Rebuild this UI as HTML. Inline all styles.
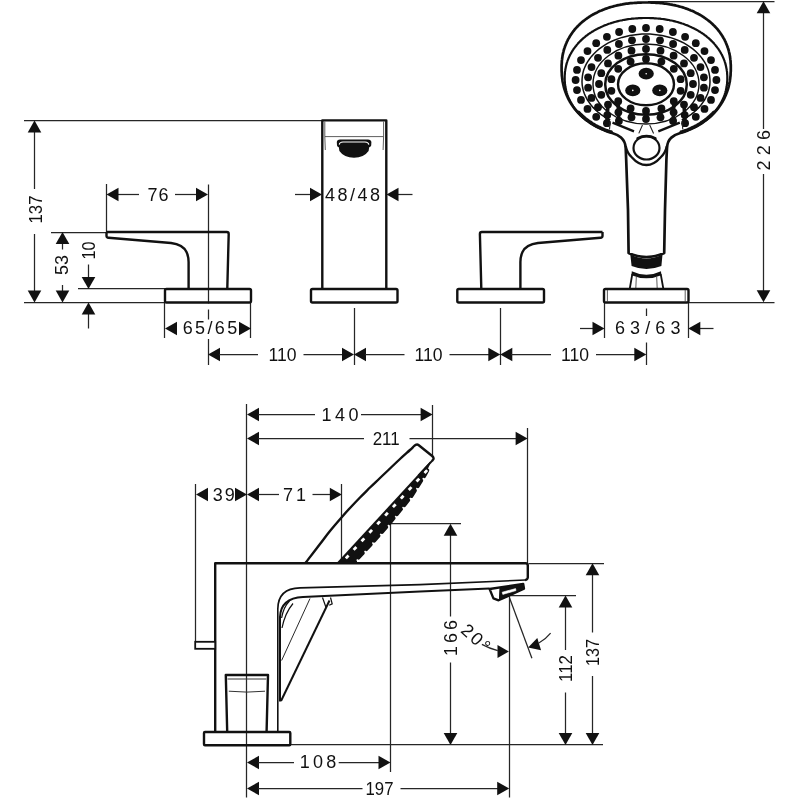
<!DOCTYPE html>
<html lang="en">
<head>
<meta charset="utf-8">
<title>Dimensional drawing</title>
<style>
html,body{margin:0;padding:0;background:#fff;}
body{width:800px;height:800px;overflow:hidden;}
svg{display:block;font-family:"Liberation Sans",sans-serif;will-change:transform;opacity:0.999;}
svg text{fill:#111;stroke:#fff;stroke-width:0.35px;paint-order:stroke;}
.thin line,.thin path{stroke:#262626;}
.ah{fill:#111;stroke:none;}
.thick{fill:none;stroke:#111;stroke-width:2.4;stroke-linejoin:round;}
rect.thick,path.thick{fill:none;}
.hair{fill:none;stroke:#333;stroke-width:0.8;}
.fill{fill:#111;stroke:none;}
</style>
</head>
<body>
<svg width="800" height="800" viewBox="0 0 800 800">
<rect x="0" y="0" width="800" height="800" fill="#fff"/>
<g id="top-dims" class="thin">
<line x1="24.00" y1="120.50" x2="322.00" y2="120.50" stroke-width="1.25" />
<line x1="24.00" y1="302.50" x2="165.00" y2="302.50" stroke-width="1.25" />
<line x1="34.50" y1="131.00" x2="34.50" y2="189.00" stroke-width="1.25" />
<line x1="34.50" y1="234.00" x2="34.50" y2="292.00" stroke-width="1.25" />
<polygon class="ah" points="34.50,120.50 41.30,132.50 27.70,132.50"/>
<polygon class="ah" points="34.50,302.50 27.70,290.50 41.30,290.50"/>
<text x="41.50" y="209.50" font-size="18" text-anchor="middle" textLength="28" lengthAdjust="spacingAndGlyphs" transform="rotate(-90 41.50 209.50)">137</text>
<line x1="51.00" y1="232.50" x2="106.00" y2="232.50" stroke-width="1.25" />
<line x1="62.50" y1="243.00" x2="62.50" y2="249.50" stroke-width="1.25" />
<line x1="62.50" y1="285.00" x2="62.50" y2="292.00" stroke-width="1.25" />
<polygon class="ah" points="62.50,232.00 69.30,244.00 55.70,244.00"/>
<polygon class="ah" points="62.50,302.50 55.70,290.50 69.30,290.50"/>
<text x="68.30" y="265.00" font-size="18" text-anchor="middle" textLength="20" lengthAdjust="spacingAndGlyphs" transform="rotate(-90 68.30 265.00)">53</text>
<line x1="78.00" y1="288.50" x2="165.00" y2="288.50" stroke-width="1.25" />
<line x1="88.50" y1="264.50" x2="88.50" y2="278.00" stroke-width="1.25" />
<line x1="88.50" y1="313.00" x2="88.50" y2="328.50" stroke-width="1.25" />
<polygon class="ah" points="88.50,289.00 81.70,277.00 95.30,277.00"/>
<polygon class="ah" points="88.50,302.50 95.30,314.50 81.70,314.50"/>
<text x="94.70" y="250.50" font-size="18" text-anchor="middle" textLength="18" lengthAdjust="spacingAndGlyphs" transform="rotate(-90 94.70 250.50)">10</text>
<line x1="106.50" y1="184.00" x2="106.50" y2="232.00" stroke-width="1.25" />
<line x1="117.00" y1="194.50" x2="139.00" y2="194.50" stroke-width="1.25" />
<line x1="175.00" y1="194.50" x2="197.00" y2="194.50" stroke-width="1.25" />
<polygon class="ah" points="106.50,194.50 118.50,187.70 118.50,201.30"/>
<polygon class="ah" points="208.00,194.50 196.00,201.30 196.00,187.70"/>
<text x="158.00" y="201.00" font-size="18" text-anchor="middle" textLength="21" lengthAdjust="spacing">76</text>
<line x1="208.50" y1="184.50" x2="208.50" y2="303.50" stroke-width="1.25" />
<line x1="208.50" y1="309.50" x2="208.50" y2="319.50" stroke-width="1.25" />
<line x1="208.50" y1="339.00" x2="208.50" y2="365.00" stroke-width="1.25" />
<line x1="164.50" y1="303.00" x2="164.50" y2="338.00" stroke-width="1.25" />
<line x1="250.50" y1="303.00" x2="250.50" y2="338.00" stroke-width="1.25" />
<polygon class="ah" points="165.00,328.50 177.00,321.70 177.00,335.30"/>
<polygon class="ah" points="251.00,328.50 239.00,335.30 239.00,321.70"/>
<text x="210.00" y="334.00" font-size="18" text-anchor="middle" textLength="54.5" lengthAdjust="spacing">65/65</text>
<line x1="295.00" y1="194.50" x2="311.00" y2="194.50" stroke-width="1.25" />
<line x1="397.50" y1="194.50" x2="412.50" y2="194.50" stroke-width="1.25" />
<polygon class="ah" points="322.00,194.50 310.00,201.30 310.00,187.70"/>
<polygon class="ah" points="386.50,194.50 398.50,187.70 398.50,201.30"/>
<text x="352.50" y="201.00" font-size="18" text-anchor="middle" textLength="55" lengthAdjust="spacing">48/48</text>
<line x1="354.50" y1="308.00" x2="354.50" y2="365.00" stroke-width="1.25" />
<line x1="500.50" y1="308.00" x2="500.50" y2="365.00" stroke-width="1.25" />
<line x1="646.50" y1="308.50" x2="646.50" y2="316.00" stroke-width="1.25" />
<line x1="646.50" y1="342.50" x2="646.50" y2="365.00" stroke-width="1.25" />
<polygon class="ah" points="208.00,354.50 220.00,347.70 220.00,361.30"/>
<line x1="219.00" y1="354.50" x2="258.00" y2="354.50" stroke-width="1.25" />
<text x="282.60" y="360.50" font-size="18" text-anchor="middle" textLength="28" lengthAdjust="spacingAndGlyphs">110</text>
<line x1="303.50" y1="354.50" x2="343.00" y2="354.50" stroke-width="1.25" />
<polygon class="ah" points="354.00,354.50 342.00,361.30 342.00,347.70"/>
<polygon class="ah" points="354.00,354.50 366.00,347.70 366.00,361.30"/>
<line x1="365.00" y1="354.50" x2="404.50" y2="354.50" stroke-width="1.25" />
<text x="428.50" y="360.50" font-size="18" text-anchor="middle" textLength="28" lengthAdjust="spacingAndGlyphs">110</text>
<line x1="449.50" y1="354.50" x2="489.00" y2="354.50" stroke-width="1.25" />
<polygon class="ah" points="500.30,354.50 488.30,361.30 488.30,347.70"/>
<polygon class="ah" points="500.30,354.50 512.30,347.70 512.30,361.30"/>
<line x1="511.00" y1="354.50" x2="551.00" y2="354.50" stroke-width="1.25" />
<text x="575.00" y="360.50" font-size="18" text-anchor="middle" textLength="28" lengthAdjust="spacingAndGlyphs">110</text>
<line x1="596.00" y1="354.50" x2="635.00" y2="354.50" stroke-width="1.25" />
<polygon class="ah" points="646.30,354.50 634.30,361.30 634.30,347.70"/>
<line x1="604.50" y1="303.00" x2="604.50" y2="338.00" stroke-width="1.25" />
<line x1="688.50" y1="303.00" x2="688.50" y2="338.00" stroke-width="1.25" />
<line x1="580.00" y1="328.50" x2="593.00" y2="328.50" stroke-width="1.25" />
<line x1="699.50" y1="328.50" x2="713.50" y2="328.50" stroke-width="1.25" />
<polygon class="ah" points="604.50,328.50 592.50,335.30 592.50,321.70"/>
<polygon class="ah" points="688.30,328.50 700.30,321.70 700.30,335.30"/>
<text x="647.70" y="334.00" font-size="18" text-anchor="middle" textLength="65.5" lengthAdjust="spacing">63/63</text>
<line x1="648.00" y1="1.50" x2="774.50" y2="1.50" stroke-width="1.25" />
<line x1="689.00" y1="302.50" x2="774.50" y2="302.50" stroke-width="1.25" />
<line x1="763.50" y1="12.00" x2="763.50" y2="129.00" stroke-width="1.25" />
<line x1="763.50" y1="174.00" x2="763.50" y2="291.00" stroke-width="1.25" />
<polygon class="ah" points="763.50,1.20 770.30,13.20 756.70,13.20"/>
<polygon class="ah" points="763.50,302.30 756.70,290.30 770.30,290.30"/>
<text x="770.50" y="150.20" font-size="18" text-anchor="middle" textLength="40.5" lengthAdjust="spacing" transform="rotate(-90 770.50 150.20)">226</text>
</g>
<g id="left-handle" class="thick">
<path d="M106.5,232 L226.8,232 Q228.7,232 228.7,234 L227.3,288.5"/>
<path d="M106.5,232 L106.5,236 Q106.6,237.7 108.5,237.8 L171,243 Q183,244.6 186.5,252 Q188.6,256.5 188.6,262 L188.6,288.5"/>
<rect x="165" y="289" width="86" height="13.5" rx="1.5"/>
</g>
<g id="spout-front">
<path class="thick" d="M322.3,288.5 L322.3,120.4 L386.3,120.4 L386.3,288.5"/>
<rect class="thick" x="311" y="289" width="86.5" height="13.5" rx="1.5"/>
<path class="hair" d="M324.8,121.5 L324.8,136.6 L383.6,136.6 L383.6,121.5 M324.8,136.6 L325.3,150 M383.6,136.6 L383.1,150"/>
<path class="fill" d="M336.8,142 Q337,139.6 340,139.5 L368,139.5 Q371,139.6 371.4,142 L371.2,145.5 Q370.5,147 369.2,147.3 L368.6,151 Q364,157.6 354,157.8 Q344,157.6 339.4,151 L338.8,147.3 Q337.5,147 337,145.5 Z"/>
<path d="M339.3,144.6 Q339.5,142.2 343,142 L365,142 Q368.5,142.2 368.8,144.6" stroke="#fff" stroke-width="1.1" fill="none"/>
</g>
<g id="right-handle" class="thick">
<path d="M602.5,232 L481.8,232 Q479.9,232 479.9,234 L481.3,288.5"/>
<path d="M602.5,232 L602.5,236 Q602.4,237.7 600.5,237.8 L538,243 Q526,244.6 522.5,252 Q520.4,256.5 520.4,262 L520.4,288.5"/>
<rect x="457.3" y="289" width="86.7" height="13.5" rx="1.5"/>
</g>
<g id="shower-front">
<path d="M628.6,253 L628,210 L626.2,160 L625.7,148 Q625.4,141.5 621,137.6 Q617.5,134.6 612.1,133.0 L610.9,132.7 L609.7,132.3 L608.5,131.9 L607.3,131.5 L606.1,131.0 L604.9,130.6 L603.8,130.1 L602.6,129.6 L601.5,129.1 L600.4,128.6 L599.3,128.1 L598.2,127.6 L597.2,127.0 L596.1,126.5 L595.0,125.9 L594.0,125.3 L593.0,124.7 L592.0,124.1 L591.0,123.5 L590.0,122.8 L589.1,122.2 L588.1,121.5 L587.2,120.8 L586.3,120.1 L585.4,119.4 L584.5,118.7 L583.6,118.0 L582.7,117.2 L581.9,116.5 L581.1,115.7 L580.2,114.9 L579.5,114.2 L578.7,113.3 L577.9,112.5 L577.2,111.7 L576.4,110.9 L575.7,110.0 L575.0,109.2 L574.3,108.3 L573.7,107.4 L573.0,106.5 L572.4,105.6 L571.8,104.7 L571.2,103.8 L570.6,102.8 L570.0,101.9 L569.5,100.9 L569.0,100.0 L568.4,99.0 L567.9,98.0 L567.5,97.0 L567.0,96.0 L566.6,95.0 L566.2,94.0 L565.8,92.9 L565.4,91.9 L565.0,90.8 L564.7,89.8 L564.3,88.7 L564.0,87.6 L563.7,86.5 L563.5,85.4 L563.2,84.3 L563.0,83.2 L562.7,82.0 L562.5,80.9 L562.4,79.7 L562.2,78.5 L562.1,77.3 L561.9,76.1 L561.8,74.9 L561.8,73.6 L561.7,72.3 L561.6,71.0 L561.6,69.6 L561.6,68.0 L561.6,66.5 L561.6,65.2 L561.7,63.9 L561.8,62.7 L561.8,61.5 L561.9,60.4 L562.1,59.2 L562.2,58.1 L562.4,57.0 L562.5,55.9 L562.7,54.8 L563.0,53.7 L563.2,52.6 L563.5,51.6 L563.7,50.5 L564.0,49.5 L564.3,48.5 L564.7,47.5 L565.0,46.5 L565.4,45.5 L565.8,44.5 L566.2,43.5 L566.6,42.6 L567.0,41.6 L567.5,40.6 L567.9,39.7 L568.4,38.8 L569.0,37.9 L569.5,37.0 L570.0,36.1 L570.6,35.2 L571.2,34.3 L571.8,33.4 L572.4,32.5 L573.0,31.7 L573.7,30.9 L574.3,30.0 L575.0,29.2 L575.7,28.4 L576.4,27.6 L577.2,26.8 L577.9,26.0 L578.7,25.3 L579.5,24.5 L580.2,23.8 L581.1,23.0 L581.9,22.3 L582.7,21.6 L583.6,20.9 L584.5,20.2 L585.4,19.5 L586.3,18.9 L587.2,18.2 L588.1,17.6 L589.1,16.9 L590.0,16.3 L591.0,15.7 L592.0,15.1 L593.0,14.5 L594.0,14.0 L595.0,13.4 L596.1,12.9 L597.2,12.4 L598.2,11.8 L599.3,11.3 L600.4,10.8 L601.5,10.4 L602.6,9.9 L603.8,9.5 L604.9,9.0 L606.1,8.6 L607.3,8.2 L608.5,7.8 L609.7,7.4 L610.9,7.0 L612.1,6.7 L613.3,6.4 L614.6,6.0 L615.8,5.7 L617.1,5.4 L618.4,5.1 L619.7,4.9 L621.0,4.6 L622.3,4.4 L623.7,4.1 L625.0,3.9 L626.4,3.7 L627.7,3.6 L629.1,3.4 L630.5,3.2 L632.0,3.1 L633.4,3.0 L634.9,2.9 L636.3,2.8 L637.8,2.7 L639.4,2.6 L640.9,2.6 L642.6,2.5 L644.3,2.5 L646.2,2.5 L648.1,2.5 L649.8,2.5 L651.5,2.6 L653.0,2.6 L654.6,2.7 L656.1,2.8 L657.5,2.9 L659.0,3.0 L660.4,3.1 L661.9,3.2 L663.3,3.4 L664.7,3.6 L666.0,3.7 L667.4,3.9 L668.7,4.1 L670.1,4.4 L671.4,4.6 L672.7,4.9 L674.0,5.1 L675.3,5.4 L676.6,5.7 L677.8,6.0 L679.1,6.4 L680.3,6.7 L681.5,7.0 L682.7,7.4 L683.9,7.8 L685.1,8.2 L686.3,8.6 L687.5,9.0 L688.6,9.5 L689.8,9.9 L690.9,10.4 L692.0,10.8 L693.1,11.3 L694.2,11.8 L695.2,12.4 L696.3,12.9 L697.4,13.4 L698.4,14.0 L699.4,14.5 L700.4,15.1 L701.4,15.7 L702.4,16.3 L703.3,16.9 L704.3,17.6 L705.2,18.2 L706.1,18.9 L707.0,19.5 L707.9,20.2 L708.8,20.9 L709.7,21.6 L710.5,22.3 L711.3,23.0 L712.2,23.8 L712.9,24.5 L713.7,25.3 L714.5,26.0 L715.2,26.8 L716.0,27.6 L716.7,28.4 L717.4,29.2 L718.1,30.0 L718.7,30.9 L719.4,31.7 L720.0,32.5 L720.6,33.4 L721.2,34.3 L721.8,35.2 L722.4,36.1 L722.9,37.0 L723.4,37.9 L724.0,38.8 L724.5,39.7 L724.9,40.6 L725.4,41.6 L725.8,42.6 L726.2,43.5 L726.6,44.5 L727.0,45.5 L727.4,46.5 L727.7,47.5 L728.1,48.5 L728.4,49.5 L728.7,50.5 L728.9,51.6 L729.2,52.6 L729.4,53.7 L729.7,54.8 L729.9,55.9 L730.0,57.0 L730.2,58.1 L730.3,59.2 L730.5,60.4 L730.6,61.5 L730.6,62.7 L730.7,63.9 L730.8,65.2 L730.8,66.5 L730.8,68.0 L730.8,69.6 L730.8,71.0 L730.7,72.3 L730.6,73.6 L730.6,74.9 L730.5,76.1 L730.3,77.3 L730.2,78.5 L730.0,79.7 L729.9,80.9 L729.7,82.0 L729.4,83.2 L729.2,84.3 L728.9,85.4 L728.7,86.5 L728.4,87.6 L728.1,88.7 L727.7,89.8 L727.4,90.8 L727.0,91.9 L726.6,92.9 L726.2,94.0 L725.8,95.0 L725.4,96.0 L724.9,97.0 L724.5,98.0 L724.0,99.0 L723.4,100.0 L722.9,100.9 L722.4,101.9 L721.8,102.8 L721.2,103.8 L720.6,104.7 L720.0,105.6 L719.4,106.5 L718.7,107.4 L718.1,108.3 L717.4,109.2 L716.7,110.0 L716.0,110.9 L715.2,111.7 L714.5,112.5 L713.7,113.3 L712.9,114.2 L712.2,114.9 L711.3,115.7 L710.5,116.5 L709.7,117.2 L708.8,118.0 L707.9,118.7 L707.0,119.4 L706.1,120.1 L705.2,120.8 L704.3,121.5 L703.3,122.2 L702.4,122.8 L701.4,123.5 L700.4,124.1 L699.4,124.7 L698.4,125.3 L697.4,125.9 L696.3,126.5 L695.2,127.0 L694.2,127.6 L693.1,128.1 L692.0,128.6 L690.9,129.1 L689.8,129.6 L688.6,130.1 L687.5,130.6 L686.3,131.0 L685.1,131.5 L683.9,131.9 L682.7,132.3 L681.5,132.7 L680.3,133.0 Q674.9,134.6 671.4,137.6 Q667.2,141.5 667,148 L666.4,160 L665,210 L664.2,253 Q646.4,261 628.6,253 Z" fill="none" stroke="#111" stroke-width="2.7" stroke-linejoin="round"/>
<polyline fill="none" stroke="#111" stroke-width="2.2" points="587.6,121.1 586.7,120.5 585.8,119.8 585.0,119.1 584.2,118.5 583.4,117.8 582.6,117.1 581.8,116.4 581.0,115.6 580.3,114.9 579.6,114.2 578.8,113.4 578.1,112.7 577.5,111.9 576.8,111.1 576.2,110.3 575.5,109.5 574.9,108.7 574.3,107.9 573.7,107.1 573.2,106.3 572.6,105.4 572.1,104.6 571.6,103.8 571.1,102.9 570.6,102.0 570.1,101.2 569.7,100.3 569.3,99.4 568.9,98.5 568.5,97.6 568.1,96.7 567.8,95.8 567.4,94.9 567.1,93.9 566.8,93.0 566.6,92.1 566.3,91.1 566.1,90.2 565.9,89.2 565.7,88.3 565.5,87.3 565.3,86.3 565.2,85.3 565.0,84.3 564.9,83.3 564.9,82.3 564.8,81.3 564.7,80.2 564.7,79.1 564.7,78.0 564.7,76.9 564.7,75.8 564.8,74.7 564.9,73.7 564.9,72.7 565.0,71.7 565.2,70.7 565.3,69.7 565.5,68.7 565.7,67.7 565.9,66.8 566.1,65.8 566.3,64.9 566.6,63.9 566.8,63.0 567.1,62.1 567.4,61.1 567.8,60.2 568.1,59.3 568.5,58.4 568.9,57.5 569.3,56.6 569.7,55.7 570.1,54.8 570.6,54.0 571.1,53.1 571.6,52.2 572.1,51.4 572.6,50.6 573.2,49.7 573.7,48.9 574.3,48.1 574.9,47.3 575.5,46.5 576.2,45.7 576.8,44.9 577.5,44.1 578.1,43.3 578.8,42.6 579.6,41.8 580.3,41.1 581.0,40.4 581.8,39.6 582.6,38.9 583.4,38.2 584.2,37.5 585.0,36.9 585.8,36.2 586.7,35.5 587.6,34.9 588.4,34.2 589.3,33.6 590.2,33.0 591.2,32.4 592.1,31.8 593.1,31.2 594.0,30.6 595.0,30.1 596.0,29.5 597.0,29.0 598.0,28.4 599.0,27.9 600.1,27.4 601.1,26.9 602.2,26.5 603.3,26.0 604.3,25.5 605.4,25.1 606.6,24.7 607.7,24.2 608.8,23.8 609.9,23.5 611.1,23.1 612.3,22.7 613.4,22.4 614.6,22.0 615.8,21.7 617.0,21.4 618.2,21.1 619.4,20.8 620.7,20.5 621.9,20.3 623.1,20.0 624.4,19.8 625.7,19.6 626.9,19.4 628.2,19.2 629.5,19.0 630.8,18.9 632.1,18.7 633.4,18.6 634.8,18.5 636.1,18.3 637.4,18.3 638.8,18.2 640.2,18.1 641.6,18.1 643.0,18.0 644.4,18.0 646.0,18.0 647.6,18.0 649.0,18.0 650.4,18.1 651.8,18.1 653.2,18.2 654.6,18.3 655.9,18.3 657.2,18.5 658.6,18.6 659.9,18.7 661.2,18.9 662.5,19.0 663.8,19.2 665.1,19.4 666.3,19.6 667.6,19.8 668.9,20.0 670.1,20.3 671.3,20.5 672.6,20.8 673.8,21.1 675.0,21.4 676.2,21.7 677.4,22.0 678.6,22.4 679.7,22.7 680.9,23.1 682.1,23.5 683.2,23.8 684.3,24.2 685.4,24.7 686.6,25.1 687.7,25.5 688.7,26.0 689.8,26.5 690.9,26.9 691.9,27.4 693.0,27.9 694.0,28.4 695.0,29.0 696.0,29.5 697.0,30.1 698.0,30.6 698.9,31.2 699.9,31.8 700.8,32.4 701.8,33.0 702.7,33.6 703.6,34.2 704.4,34.9 705.3,35.5 706.2,36.2 707.0,36.9 707.8,37.5 708.6,38.2 709.4,38.9 710.2,39.6 711.0,40.4 711.7,41.1 712.4,41.8 713.2,42.6 713.9,43.3 714.5,44.1 715.2,44.9 715.8,45.7 716.5,46.5 717.1,47.3 717.7,48.1 718.3,48.9 718.8,49.7 719.4,50.6 719.9,51.4 720.4,52.2 720.9,53.1 721.4,54.0 721.9,54.8 722.3,55.7 722.7,56.6 723.1,57.5 723.5,58.4 723.9,59.3 724.2,60.2 724.6,61.1 724.9,62.1 725.2,63.0 725.4,63.9 725.7,64.9 725.9,65.8 726.1,66.8 726.3,67.7 726.5,68.7 726.7,69.7 726.8,70.7 727.0,71.7 727.1,72.7 727.1,73.7 727.2,74.7 727.3,75.8 727.3,76.9 727.3,78.0 727.3,79.1 727.3,80.2 727.2,81.3 727.1,82.3 727.1,83.3 727.0,84.3 726.8,85.3 726.7,86.3 726.5,87.3 726.3,88.3 726.1,89.2 725.9,90.2 725.7,91.1 725.4,92.1 725.2,93.0 724.9,93.9 724.6,94.9 724.2,95.8 723.9,96.7 723.5,97.6 723.1,98.5 722.7,99.4 722.3,100.3 721.9,101.2 721.4,102.0 720.9,102.9 720.4,103.8 719.9,104.6 719.4,105.4 718.8,106.3 718.3,107.1 717.7,107.9 717.1,108.7 716.5,109.5 715.8,110.3 715.2,111.1 714.5,111.9 713.9,112.7 713.2,113.4 712.4,114.2 711.7,114.9 711.0,115.6 710.2,116.4 709.4,117.1 708.6,117.8 707.8,118.5 707.0,119.1 706.2,119.8 705.3,120.5 704.4,121.1"/>
<polyline fill="none" stroke="#111" stroke-width="3.4" stroke-linecap="round" points="611.2,132.0 610.0,131.7 608.8,131.3 607.6,130.8 606.4,130.4 605.3,130.0 604.1,129.5 603.0,129.0 601.9,128.6 600.8,128.1 599.7,127.5 598.6,127.0 597.6,126.5 596.5,125.9 595.5,125.4 594.4,124.8 593.4,124.2 592.4,123.6 591.5,123.0 590.5,122.3 589.5,121.7 588.6,121.0 587.7,120.3 586.8,119.7 585.9,119.0 585.0,118.3 584.1,117.5 583.3,116.8 582.4,116.1 581.6,115.3 580.8,114.5 580.0,113.8 579.2,113.0 578.5,112.2"/>
<polyline fill="none" stroke="#111" stroke-width="3.4" stroke-linecap="round" points="713.9,112.2 713.2,113.0 712.4,113.8 711.6,114.5 710.8,115.3 710.0,116.1 709.1,116.8 708.3,117.5 707.4,118.3 706.5,119.0 705.6,119.7 704.7,120.3 703.8,121.0 702.9,121.7 701.9,122.3 700.9,123.0 700.0,123.6 699.0,124.2 698.0,124.8 696.9,125.4 695.9,125.9 694.8,126.5 693.8,127.0 692.7,127.5 691.6,128.1 690.5,128.6 689.4,129.0 688.3,129.5 687.1,130.0 686.0,130.4 684.8,130.8 683.6,131.3 682.4,131.7 681.2,132.0"/>
<polyline fill="none" stroke="#111" stroke-width="1.5" points="610.2,120.0 606.9,118.2 603.8,116.3 600.8,114.3 598.0,112.1 595.4,109.8 593.0,107.4 590.8,104.8 588.9,102.2 587.2,99.5 585.7,96.7 584.4,93.8 583.4,90.9 582.7,88.0 582.2,85.0 582.0,82.0 582.1,79.0 582.4,76.0 582.9,73.1 583.7,70.1 584.8,67.3 586.1,64.4 587.7,61.7 589.5,59.0 591.5,56.4 593.7,53.9 596.2,51.5 598.9,49.2 601.7,47.1 604.7,45.1 607.9,43.2 611.3,41.5 614.8,40.0 618.4,38.6 622.1,37.4 626.0,36.4 629.9,35.5 633.8,34.9 637.9,34.4 641.9,34.1 646.0,34.0 650.1,34.1 654.1,34.4 658.2,34.9 662.1,35.5 666.0,36.4 669.9,37.4 673.6,38.6 677.2,40.0 680.7,41.5 684.1,43.2 687.3,45.1 690.3,47.1 693.1,49.2 695.8,51.5 698.3,53.9 700.5,56.4 702.5,59.0 704.3,61.7 705.9,64.4 707.2,67.3 708.3,70.1 709.1,73.1 709.6,76.0 709.9,79.0 710.0,82.0 709.8,85.0 709.3,88.0 708.6,90.9 707.6,93.8 706.3,96.7 704.8,99.5 703.1,102.2 701.2,104.8 699.0,107.4 696.6,109.8 694.0,112.1 691.2,114.3 688.2,116.3 685.1,118.2 681.8,120.0"/>
<ellipse cx="646.0" cy="84" rx="53" ry="40" fill="none" stroke="#111" stroke-width="1.4"/>
<ellipse cx="646.0" cy="84.5" rx="40.8" ry="30.3" fill="none" stroke="#111" stroke-width="2.5"/>
<ellipse cx="646.0" cy="84.3" rx="28" ry="21" fill="none" stroke="#111" stroke-width="2.4"/>
<g class="fill">
<circle cx="606.9" cy="123.2" r="3.9"/>
<circle cx="596.2" cy="116.8" r="3.9"/>
<circle cx="587.5" cy="108.9" r="3.9"/>
<circle cx="581.0" cy="99.9" r="3.9"/>
<circle cx="577.0" cy="90.1" r="3.9"/>
<circle cx="575.6" cy="80.0" r="3.9"/>
<circle cx="577.0" cy="69.9" r="3.9"/>
<circle cx="581.0" cy="60.1" r="3.9"/>
<circle cx="587.5" cy="51.1" r="3.9"/>
<circle cx="596.2" cy="43.2" r="3.9"/>
<circle cx="606.9" cy="36.8" r="3.9"/>
<circle cx="619.1" cy="32.0" r="3.9"/>
<circle cx="632.3" cy="29.0" r="3.9"/>
<circle cx="646.0" cy="28.0" r="3.9"/>
<circle cx="659.7" cy="29.0" r="3.9"/>
<circle cx="672.9" cy="32.0" r="3.9"/>
<circle cx="685.1" cy="36.8" r="3.9"/>
<circle cx="695.8" cy="43.2" r="3.9"/>
<circle cx="704.5" cy="51.1" r="3.9"/>
<circle cx="711.0" cy="60.1" r="3.9"/>
<circle cx="715.0" cy="69.9" r="3.9"/>
<circle cx="716.4" cy="80.0" r="3.9"/>
<circle cx="715.0" cy="90.1" r="3.9"/>
<circle cx="711.0" cy="99.9" r="3.9"/>
<circle cx="704.5" cy="108.9" r="3.9"/>
<circle cx="695.8" cy="116.8" r="3.9"/>
<circle cx="685.1" cy="123.2" r="3.9"/>
<circle cx="618.9" cy="121.0" r="3.9"/>
<circle cx="607.3" cy="115.1" r="3.9"/>
<circle cx="598.0" cy="107.2" r="3.9"/>
<circle cx="591.5" cy="97.9" r="3.9"/>
<circle cx="588.1" cy="87.7" r="3.9"/>
<circle cx="588.1" cy="77.3" r="3.9"/>
<circle cx="591.5" cy="67.1" r="3.9"/>
<circle cx="598.0" cy="57.8" r="3.9"/>
<circle cx="607.3" cy="49.9" r="3.9"/>
<circle cx="618.9" cy="44.0" r="3.9"/>
<circle cx="632.0" cy="40.3" r="3.9"/>
<circle cx="646.0" cy="39.0" r="3.9"/>
<circle cx="660.0" cy="40.3" r="3.9"/>
<circle cx="673.1" cy="44.0" r="3.9"/>
<circle cx="684.7" cy="49.9" r="3.9"/>
<circle cx="694.0" cy="57.8" r="3.9"/>
<circle cx="700.5" cy="67.1" r="3.9"/>
<circle cx="703.9" cy="77.3" r="3.9"/>
<circle cx="703.9" cy="87.7" r="3.9"/>
<circle cx="700.5" cy="97.9" r="3.9"/>
<circle cx="694.0" cy="107.2" r="3.9"/>
<circle cx="684.7" cy="115.1" r="3.9"/>
<circle cx="673.1" cy="121.0" r="3.9"/>
<circle cx="646.0" cy="119.0" r="3.9"/>
<circle cx="631.5" cy="117.3" r="3.9"/>
<circle cx="618.4" cy="112.3" r="3.9"/>
<circle cx="608.0" cy="104.6" r="3.9"/>
<circle cx="601.3" cy="94.8" r="3.9"/>
<circle cx="599.0" cy="84.0" r="3.9"/>
<circle cx="601.3" cy="73.2" r="3.9"/>
<circle cx="608.0" cy="63.4" r="3.9"/>
<circle cx="618.4" cy="55.7" r="3.9"/>
<circle cx="631.5" cy="50.7" r="3.9"/>
<circle cx="646.0" cy="49.0" r="3.9"/>
<circle cx="660.5" cy="50.7" r="3.9"/>
<circle cx="673.6" cy="55.7" r="3.9"/>
<circle cx="684.0" cy="63.4" r="3.9"/>
<circle cx="690.7" cy="73.2" r="3.9"/>
<circle cx="693.0" cy="84.0" r="3.9"/>
<circle cx="690.7" cy="94.8" r="3.9"/>
<circle cx="684.0" cy="104.6" r="3.9"/>
<circle cx="673.6" cy="112.3" r="3.9"/>
<circle cx="660.5" cy="117.3" r="3.9"/>
<circle cx="646.0" cy="111.0" r="3.9"/>
<circle cx="630.6" cy="108.4" r="3.9"/>
<circle cx="618.2" cy="101.2" r="3.9"/>
<circle cx="611.4" cy="90.8" r="3.9"/>
<circle cx="611.4" cy="79.2" r="3.9"/>
<circle cx="618.2" cy="68.8" r="3.9"/>
<circle cx="630.6" cy="61.6" r="3.9"/>
<circle cx="646.0" cy="59.0" r="3.9"/>
<circle cx="661.4" cy="61.6" r="3.9"/>
<circle cx="673.8" cy="68.8" r="3.9"/>
<circle cx="680.6" cy="79.2" r="3.9"/>
<circle cx="680.6" cy="90.8" r="3.9"/>
<circle cx="673.8" cy="101.2" r="3.9"/>
<circle cx="661.4" cy="108.4" r="3.9"/>
</g>
<polyline fill="none" stroke="#111" stroke-width="3.6" points="646.0,111.0 646.0,119.0"/>
<polyline fill="none" stroke="#111" stroke-width="3.6" points="630.6,108.4 631.5,117.3"/>
<polyline fill="none" stroke="#111" stroke-width="3.6" points="661.4,108.4 660.5,117.3"/>
<polyline fill="none" stroke="#111" stroke-width="3.6" points="618.2,101.2 618.4,112.3 618.9,121.0"/>
<polyline fill="none" stroke="#111" stroke-width="3.6" points="673.8,101.2 673.6,112.3 673.1,121.0"/>
<polyline fill="none" stroke="#111" stroke-width="3.6" points="608.0,104.6 607.3,115.1 606.9,123.2"/>
<polyline fill="none" stroke="#111" stroke-width="3.6" points="684.0,104.6 684.7,115.1 685.1,123.2"/>
<g class="fill">
<ellipse cx="646.2" cy="73.7" rx="7.6" ry="5.9"/>
<ellipse cx="632.8" cy="90.4" rx="7.6" ry="5.9"/>
<ellipse cx="659.8" cy="90.4" rx="7.6" ry="5.9"/>
</g>
<circle cx="646.2" cy="73.7" r="0.8" fill="#fff"/>
<circle cx="632.8" cy="90.4" r="0.8" fill="#fff"/>
<circle cx="659.8" cy="90.4" r="0.8" fill="#fff"/>
<path d="M612.5,122.6 L634,131.4 M679.8,122.6 L658.3,131.4" stroke="#111" stroke-width="2.3" fill="none"/>
<path d="M610.2,121.5 L609.5,129.5 M682.1,121.5 L682.8,129.5 M642.5,125 L638.8,133.4 M649.7,125 L653.6,133.4" stroke="#222" stroke-width="1.1" fill="none"/>
<path d="M625.7,146 Q627,153 632,157.5 Q638.5,165 646.4,165 Q654,165 660.5,157.5 Q665.5,153 666.8,146" fill="none" stroke="#111" stroke-width="2.3"/>
<ellipse cx="646.5" cy="147.9" rx="13" ry="11.6" fill="#fff" stroke="#111" stroke-width="2.2"/>
<path d="M637.5,138.3 Q646.5,133.6 655.5,138.3" fill="none" stroke="#111" stroke-width="2.4" stroke-linecap="round"/>
<path class="fill" d="M630.3,254.5 Q646.4,262.5 662.5,254.5 L661.4,266 Q646.4,272 631.6,266 Z"/>
<path d="M631.8,271.2 Q646.4,278.2 661,271.2 L661.3,275.2 Q646.4,281.5 631.5,275.2 Z" class="fill"/>
<path d="M632.3,274 L629.8,288.5 M660.7,274 L663.3,288.5" stroke="#111" stroke-width="1.8" fill="none"/>
<path class="hair" d="M636.3,277 L635.8,288.5 M656.7,277 L657.2,288.5"/>
<rect class="thick" x="604" y="289" width="84.5" height="13.5" rx="1.5"/>
<path class="hair" d="M607.4,290 L607.4,301.5 M685.2,290 L685.2,301.5"/>
</g>
<g id="side-dims" class="thin">
<line x1="246.50" y1="404.00" x2="246.50" y2="797.50" stroke-width="1.25" />
<line x1="432.50" y1="405.00" x2="432.50" y2="456.50" stroke-width="1.25" />
<polygon class="ah" points="247.00,414.50 259.00,407.70 259.00,421.30"/>
<line x1="258.00" y1="414.50" x2="315.00" y2="414.50" stroke-width="1.25" />
<text x="340.00" y="421.00" font-size="18" text-anchor="middle" textLength="37" lengthAdjust="spacing">140</text>
<line x1="361.00" y1="414.50" x2="421.50" y2="414.50" stroke-width="1.25" />
<polygon class="ah" points="432.60,414.50 420.60,421.30 420.60,407.70"/>
<line x1="527.50" y1="428.00" x2="527.50" y2="563.00" stroke-width="1.25" />
<polygon class="ah" points="247.00,438.50 259.00,431.70 259.00,445.30"/>
<line x1="258.00" y1="438.50" x2="364.00" y2="438.50" stroke-width="1.25" />
<text x="386.20" y="445.00" font-size="18" text-anchor="middle" textLength="27" lengthAdjust="spacingAndGlyphs">211</text>
<line x1="409.50" y1="438.50" x2="516.50" y2="438.50" stroke-width="1.25" />
<polygon class="ah" points="527.60,438.50 515.60,445.30 515.60,431.70"/>
<line x1="195.50" y1="484.00" x2="195.50" y2="641.00" stroke-width="1.25" />
<polygon class="ah" points="196.00,494.50 208.00,487.70 208.00,501.30"/>
<text x="223.70" y="501.00" font-size="18" text-anchor="middle" textLength="22" lengthAdjust="spacing">39</text>
<polygon class="ah" points="247.00,494.50 235.00,501.30 235.00,487.70"/>
<line x1="341.50" y1="484.00" x2="341.50" y2="562.50" stroke-width="1.25" />
<polygon class="ah" points="247.00,494.50 259.00,487.70 259.00,501.30"/>
<line x1="258.00" y1="494.50" x2="279.00" y2="494.50" stroke-width="1.25" />
<text x="294.40" y="501.00" font-size="18" text-anchor="middle" textLength="23" lengthAdjust="spacing">71</text>
<line x1="312.50" y1="494.50" x2="330.50" y2="494.50" stroke-width="1.25" />
<polygon class="ah" points="341.80,494.50 329.80,501.30 329.80,487.70"/>
<line x1="390.50" y1="523.50" x2="461.00" y2="523.50" stroke-width="1.25" />
<line x1="390.50" y1="523.80" x2="390.50" y2="772.00" stroke-width="1.25" />
<line x1="450.50" y1="535.00" x2="450.50" y2="616.50" stroke-width="1.25" />
<line x1="450.50" y1="662.50" x2="450.50" y2="734.00" stroke-width="1.25" />
<polygon class="ah" points="450.50,523.80 457.30,535.80 443.70,535.80"/>
<polygon class="ah" points="450.50,745.00 443.70,733.00 457.30,733.00"/>
<text x="457.00" y="638.00" font-size="18" text-anchor="middle" textLength="36" lengthAdjust="spacing" transform="rotate(-90 457.00 638.00)">166</text>
<line x1="290.50" y1="744.50" x2="603.00" y2="744.50" stroke-width="1.25" />
<line x1="528.50" y1="563.50" x2="604.00" y2="563.50" stroke-width="1.25" />
<line x1="592.50" y1="574.50" x2="592.50" y2="632.50" stroke-width="1.25" />
<line x1="592.50" y1="676.00" x2="592.50" y2="734.00" stroke-width="1.25" />
<polygon class="ah" points="592.50,563.20 599.30,575.20 585.70,575.20"/>
<polygon class="ah" points="592.50,745.00 585.70,733.00 599.30,733.00"/>
<text x="598.80" y="652.50" font-size="18" text-anchor="middle" textLength="27" lengthAdjust="spacingAndGlyphs" transform="rotate(-90 598.80 652.50)">137</text>
<line x1="509.20" y1="595.50" x2="576.00" y2="595.50" stroke-width="1.25" />
<line x1="509.50" y1="596.00" x2="509.50" y2="797.50" stroke-width="1.25" />
<line x1="565.50" y1="607.00" x2="565.50" y2="650.00" stroke-width="1.25" />
<line x1="565.50" y1="692.50" x2="565.50" y2="734.00" stroke-width="1.25" />
<polygon class="ah" points="565.50,595.50 572.30,607.50 558.70,607.50"/>
<polygon class="ah" points="565.50,745.00 558.70,733.00 572.30,733.00"/>
<text x="572.30" y="668.50" font-size="18" text-anchor="middle" textLength="27" lengthAdjust="spacingAndGlyphs" transform="rotate(-90 572.30 668.50)">112</text>
<line x1="509.60" y1="598.00" x2="531.90" y2="658.30" stroke-width="1.25" />
<polygon class="ah" points="508.90,651.50 497.50,658.00 497.50,645.00"/>
<path d="M481.9,644.4 Q489.5,648.6 497.8,650.6" fill="none" stroke-width="1.2"/>
<polygon class="ah" points="528.10,647.50 537.29,637.89 541.09,650.32"/>
<path d="M538.5,643.2 Q545.5,639.5 550.6,633.1" fill="none" stroke-width="1.2"/>
<text x="471.70" y="642.50" font-size="18" text-anchor="middle" textLength="32" lengthAdjust="spacing" transform="rotate(42 471.7 642.5)">20°</text>
<polygon class="ah" points="247.00,762.50 259.00,755.70 259.00,769.30"/>
<line x1="258.00" y1="762.50" x2="294.00" y2="762.50" stroke-width="1.25" />
<text x="318.00" y="768.30" font-size="18" text-anchor="middle" textLength="36.5" lengthAdjust="spacing">108</text>
<line x1="338.70" y1="762.50" x2="379.00" y2="762.50" stroke-width="1.25" />
<polygon class="ah" points="390.50,762.50 378.50,769.30 378.50,755.70"/>
<polygon class="ah" points="247.00,788.50 259.00,781.70 259.00,795.30"/>
<line x1="258.00" y1="788.50" x2="362.50" y2="788.50" stroke-width="1.25" />
<text x="379.50" y="794.50" font-size="18" text-anchor="middle" textLength="28" lengthAdjust="spacingAndGlyphs">197</text>
<line x1="400.50" y1="788.50" x2="498.00" y2="788.50" stroke-width="1.25" />
<polygon class="ah" points="509.20,788.50 497.20,795.30 497.20,781.70"/>
</g>
<g id="side-body">
<path class="thick" d="M305.3,563.2 C305.8,562.6 305.6,562.8 308.0,559.6 C310.4,556.4 316.3,548.8 320.0,544.0 C323.7,539.2 326.4,535.4 330.0,531.0 C333.6,526.6 338.2,521.3 341.5,517.5 C344.8,513.7 346.9,511.3 350.0,508.0 C353.1,504.7 356.7,500.9 360.0,497.5 C363.3,494.1 366.7,490.8 370.0,487.5 C373.3,484.2 376.7,481.2 380.0,478.0 C383.3,474.8 386.7,471.7 390.0,468.5 C393.3,465.3 396.7,462.1 400.0,459.0 C403.3,455.9 407.7,452.1 410.0,450.0 C412.3,447.9 413.3,446.8 414.0,446.2 Q416.6,443.6 418.8,445.2 L432.2,456 Q434.6,458.2 432.8,460 L432,461"/>
<clipPath id="cpTop"><rect x="300" y="430" width="170" height="133.2"/></clipPath>
<g clip-path="url(#cpTop)">
<polygon class="fill" points="429.9,461.8 430.6,462.5 426.5,472.3 410.7,497.1 384.1,529.8 332.7,585.7 323.5,577.2"/>
<line x1="427.5" y1="470.4" x2="424.2" y2="476.3" stroke="#111" stroke-width="3.6" stroke-linecap="round"/>
<line x1="421.4" y1="480.6" x2="417.8" y2="486.3" stroke="#111" stroke-width="3.6" stroke-linecap="round"/>
<line x1="415.1" y1="490.6" x2="411.5" y2="496.2" stroke="#111" stroke-width="3.6" stroke-linecap="round"/>
<line x1="408.4" y1="500.2" x2="404.3" y2="505.3" stroke="#111" stroke-width="3.6" stroke-linecap="round"/>
<line x1="401.1" y1="509.2" x2="396.9" y2="514.3" stroke="#111" stroke-width="3.6" stroke-linecap="round"/>
<line x1="393.8" y1="518.2" x2="389.6" y2="523.4" stroke="#111" stroke-width="3.6" stroke-linecap="round"/>
<line x1="386.4" y1="527.2" x2="382.1" y2="532.2" stroke="#111" stroke-width="3.6" stroke-linecap="round"/>
<line x1="378.7" y1="535.9" x2="374.3" y2="540.8" stroke="#111" stroke-width="3.6" stroke-linecap="round"/>
<line x1="370.9" y1="544.5" x2="366.4" y2="549.3" stroke="#111" stroke-width="3.6" stroke-linecap="round"/>
<line x1="363.0" y1="553.0" x2="358.5" y2="557.8" stroke="#111" stroke-width="3.6" stroke-linecap="round"/>
<line x1="355.2" y1="561.5" x2="350.7" y2="566.4" stroke="#111" stroke-width="3.6" stroke-linecap="round"/>
<line x1="347.3" y1="570.1" x2="342.8" y2="574.9" stroke="#111" stroke-width="3.6" stroke-linecap="round"/>
<line x1="339.4" y1="578.6" x2="335.0" y2="583.5" stroke="#111" stroke-width="3.6" stroke-linecap="round"/>
<rect x="423.8" y="470.2" width="4" height="2.8" fill="#fff" transform="rotate(132.7 425.8 471.6)"/>
<rect x="415.9" y="478.7" width="4" height="2.8" fill="#fff" transform="rotate(132.7 417.9 480.1)"/>
<rect x="408.1" y="487.2" width="4" height="2.8" fill="#fff" transform="rotate(132.7 410.1 488.6)"/>
<rect x="400.2" y="495.8" width="4" height="2.8" fill="#fff" transform="rotate(132.7 402.2 497.2)"/>
<rect x="392.3" y="504.3" width="4" height="2.8" fill="#fff" transform="rotate(132.7 394.3 505.7)"/>
<rect x="384.5" y="512.8" width="4" height="2.8" fill="#fff" transform="rotate(132.7 386.5 514.2)"/>
<rect x="376.6" y="521.4" width="4" height="2.8" fill="#fff" transform="rotate(132.7 378.6 522.8)"/>
<rect x="368.7" y="529.9" width="4" height="2.8" fill="#fff" transform="rotate(132.7 370.7 531.3)"/>
<rect x="360.9" y="538.4" width="4" height="2.8" fill="#fff" transform="rotate(132.7 362.9 539.8)"/>
<rect x="353.0" y="547.0" width="4" height="2.8" fill="#fff" transform="rotate(132.7 355.0 548.4)"/>
<rect x="345.2" y="555.5" width="4" height="2.8" fill="#fff" transform="rotate(132.7 347.2 556.9)"/>
<rect x="337.3" y="564.0" width="4" height="2.8" fill="#fff" transform="rotate(132.7 339.3 565.4)"/>
<line x1="432.3" y1="460.6" x2="418.4" y2="475.7" stroke="#111" stroke-width="2"/>
</g>
<path class="thick" d="M215.2,731.5 L215.2,563.2 L525.5,563.2 Q527.8,563.2 527.8,565.5 L527.8,577.5 Q527.6,579.6 525,580.2"/>
<path d="M525.5,580 L420,584.6 L300,587.9 Q278,588.4 277.8,609 L277.8,731.5" fill="none" stroke="#111" stroke-width="1.6"/>
<path d="M489.5,588.6 L420,591.5 L303,597 Q280.6,598.2 280,617 L280,701.5 " fill="none" stroke="#111" stroke-width="2"/>
<path d="M489.6,589 L523.2,583.8 L524,588.8 L498.6,600.3 L493.4,598.4 Z" fill="#fff" stroke="#111" stroke-width="2.3" stroke-linejoin="round"/>
<path d="M500,587.6 L523.2,584 L524,588.8 L499.4,600 Z" fill="#111" stroke="#111" stroke-width="1" stroke-linejoin="round"/>
<path d="M502.2,592.2 L515.6,588.6 L516,590.6 L502.8,594.4 Z" fill="#fff" stroke="#fff" stroke-width="0.6" stroke-linejoin="round"/>
<path d="M329.5,600.5 L281,701" stroke="#111" stroke-width="2" fill="none"/>
<path d="M310,598.5 L281.6,660.5" stroke="#111" stroke-width="0.9" fill="none"/>
<path d="M322.5,597.5 L326.2,608 M330.5,597.5 L332.2,603.8 L329.2,605.2" stroke="#111" stroke-width="1.2" fill="none"/>
<path d="M281.6,618 Q283.5,607 289.5,601 M282,628 Q285,613 293,603.5" stroke="#111" stroke-width="1.2" fill="none"/>
<rect x="195.2" y="641.8" width="20" height="7" fill="#fff" stroke="#111" stroke-width="1.8"/>
<path class="thick" d="M227.2,731.5 L225.8,675 L268,675 L266.6,731.5"/>
<path d="M227.5,679 L266.3,679 M228.8,691.2 Q247,693 265,691.2" fill="none" stroke="#333" stroke-width="1"/>
<rect class="thick" x="204" y="732" width="86.3" height="13.2" rx="1"/>
</g>
</svg>
</body>
</html>
